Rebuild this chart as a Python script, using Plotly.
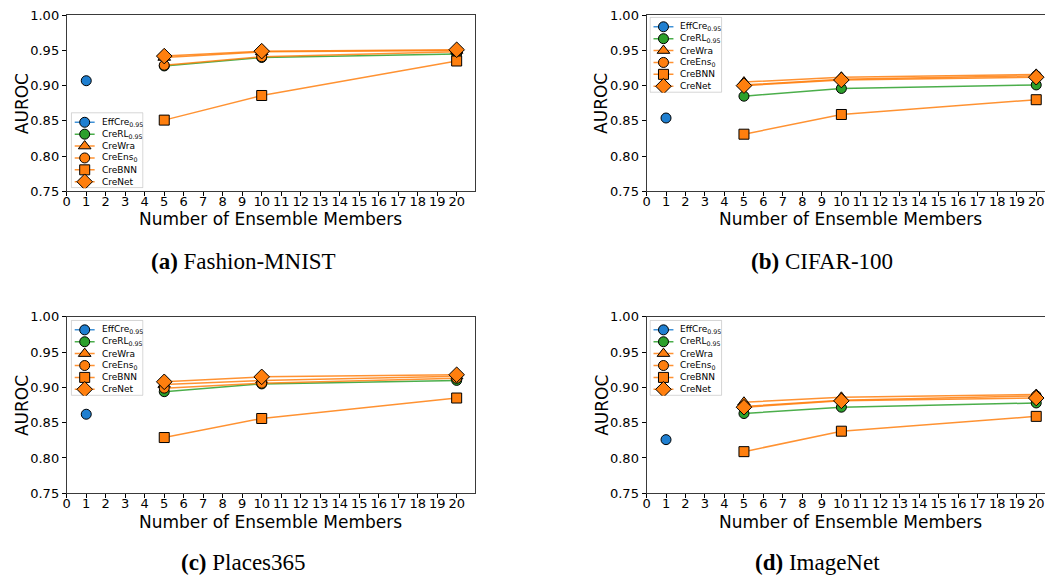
import plotly.graph_objects as go

# ---------------- data ----------------
members = [5, 10, 20]
single = [1]
series_names = ["EffCre<sub>0.95</sub>", "CreRL<sub>0.95</sub>", "CreWra",
                "CreEns<sub>0</sub>", "CreBNN", "CreNet"]
panel_titles = ["<b>(a)</b> Fashion-MNIST", "<b>(b)</b> CIFAR-100",
                "<b>(c)</b> Places365", "<b>(d)</b> ImageNet"]
x_ticks = list(range(0, 21))
y_ticks = [0.75, 0.80, 0.85, 0.90, 0.95, 1.00]

# Fashion-MNIST
fm_effcre = [0.907]
fm_crerl = [0.928, 0.940, 0.945]
fm_crewra = [0.940, 0.948, 0.950]
fm_creens = [0.929, 0.941, 0.948]
fm_crebnn = [0.851, 0.886, 0.935]
fm_crenet = [0.942, 0.949, 0.951]

# CIFAR-100
c100_effcre = [0.854]
c100_crerl = [0.885, 0.896, 0.901]
c100_crewra = [0.905, 0.912, 0.916]
c100_creens = [0.901, 0.909, 0.914]
c100_crebnn = [0.831, 0.859, 0.880]
c100_crenet = [0.900, 0.908, 0.912]

# Places365
pl_effcre = [0.862]
pl_crerl = [0.894, 0.905, 0.910]
pl_crewra = [0.904, 0.910, 0.916]
pl_creens = [0.899, 0.906, 0.913]
pl_crebnn = [0.829, 0.856, 0.885]
pl_crenet = [0.908, 0.915, 0.918]

# ImageNet
in_effcre = [0.826]
in_crerl = [0.863, 0.872, 0.878]
in_crewra = [0.879, 0.886, 0.890]
in_creens = [0.873, 0.882, 0.888]
in_crebnn = [0.809, 0.838, 0.859]
in_crenet = [0.872, 0.881, 0.885]

panels = [
    [fm_effcre, fm_crerl, fm_crewra, fm_creens, fm_crebnn, fm_crenet],
    [c100_effcre, c100_crerl, c100_crewra, c100_creens, c100_crebnn, c100_crenet],
    [pl_effcre, pl_crerl, pl_crewra, pl_creens, pl_crebnn, pl_crenet],
    [in_effcre, in_crerl, in_crewra, in_creens, in_crebnn, in_crenet],
]

# ---------------- styles ----------------
W, H = 1045, 588
BLUE, GREEN, ORANGE = "#1f7fd0", "#2ca02c", "#ff7f0e"
colors = [BLUE, GREEN, ORANGE, ORANGE, ORANGE, ORANGE]
line_colors = ["rgba(31,127,208,0.85)", "rgba(44,160,44,0.85)"] + ["rgba(255,127,14,0.85)"] * 4
symbols = ["circle", "circle", "triangle-up", "circle", "square", "diamond"]
sizes = [10, 10, 11, 10, 10, 12]

# panel boxes in pixels: (left, right, top, bottom, xmax)
boxes = [
    (63, 473, 8.5, 189, 20.95),
    (645, 1045, 8.5, 189, 20.45),
    (63, 473, 318, 499, 20.95),
    (645, 1045, 318, 499, 20.45),
]
# legend boxes: top-left corner in pixels, size
legend_tl = [(67, 108), (648, 10), (67, 321), (648, 321)]
LW, LH = 73, 78
ROW0, ROWSTEP = 10.3, 12.2
caption_pos = [(240, 261), (821, 261), (240, 570), (817, 570)]

fig = go.Figure()
TICKFONT = dict(family="DejaVu Sans", size=13, color="black")
FRAME = "#3a3a3a"

for p, data in enumerate(panels):
    k = "" if p == 0 else str(p + 1)
    for i, vals in enumerate(data):
        xs = single if i == 0 else members
        fig.add_trace(go.Scatter(
            x=xs, y=vals, name=series_names[i], mode="lines+markers",
            xaxis="x" + k, yaxis="y" + k, showlegend=False,
            line=dict(color=line_colors[i], width=1.5),
            marker=dict(symbol=symbols[i], size=sizes[i], color=colors[i],
                        line=dict(color="black", width=1)),
        ))
    l, r, t, b, xmax = boxes[p]
    clipped = p % 2 == 1
    fig.layout["xaxis" + k] = dict(
        domain=[l / W, r / W], range=[0, xmax], anchor="y" + k,
        tickvals=x_ticks, ticks="outside", ticklen=4, tickcolor="black",
        ticklabelstandoff=-6,
        showgrid=False, zeroline=False, showline=True, linecolor=FRAME,
        linewidth=1, mirror=True, tickfont=TICKFONT,
    )
    fig.layout["yaxis" + k] = dict(
        domain=[1 - b / H, 1 - t / H], range=[0.75, 1.0], anchor="x" + k,
        tickvals=y_ticks, tickformat=".2f", ticks="outside", ticklen=4,
        tickcolor="black", showgrid=False, zeroline=False, showline=True,
        linecolor=FRAME, linewidth=1, mirror=(not clipped), tickfont=TICKFONT,
    )
    # axis titles
    xc = (l + (l + 410)) / 2 if clipped else (l + r) / 2
    fig.add_annotation(x=xc / W, y=1 - (b + 29) / H, xref="paper", yref="paper",
                       text="Number of Ensemble Members", showarrow=False,
                       font=dict(family="DejaVu Sans", size=17, color="black"),
                       xanchor="center", yanchor="middle")
    fig.add_annotation(x=(l - 45) / W, y=1 - ((t + b) / 2) / H, xref="paper", yref="paper",
                       text="AUROC", showarrow=False, textangle=-90,
                       font=dict(family="DejaVu Sans", size=17, color="black"),
                       xanchor="center", yanchor="middle")
    cx, cy = caption_pos[p]
    fig.add_annotation(x=cx / W, y=1 - cy / H, xref="paper", yref="paper",
                       text=panel_titles[p], showarrow=False,
                       font=dict(family="Liberation Serif", size=23, color="black"),
                       xanchor="center", yanchor="middle")

# ---------------- legends (one per panel, drawn on small overlay axes) ----------------
for p in range(4):
    n = 5 + p
    bx, by = legend_tl[p]
    fig.layout[f"xaxis{n}"] = dict(domain=[bx / W, (bx + LW) / W], range=[0, LW],
                                   visible=False, anchor=f"y{n}", fixedrange=True)
    fig.layout[f"yaxis{n}"] = dict(domain=[1 - (by + LH) / H, 1 - by / H], range=[LH, 0],
                                   visible=False, anchor=f"x{n}", fixedrange=True)
    fig.add_shape(type="rect", xref=f"x{n}", yref=f"y{n}", x0=0.5, x1=LW - 0.5,
                  y0=0.5, y1=LH - 0.5, line=dict(color="#cccccc", width=1),
                  fillcolor="white", layer="below")
    for i, name in enumerate(series_names):
        yrow = ROW0 + ROWSTEP * i
        fig.add_trace(go.Scatter(
            x=[4, 24], y=[yrow, yrow], mode="lines",
            xaxis=f"x{n}", yaxis=f"y{n}", showlegend=False, hoverinfo="skip",
            line=dict(color=line_colors[i], width=1.5),
        ))
        fig.add_trace(go.Scatter(
            x=[14], y=[yrow], mode="markers",
            xaxis=f"x{n}", yaxis=f"y{n}", showlegend=False, hoverinfo="skip",
            marker=dict(symbol=symbols[i], size=sizes[i], color=colors[i],
                        line=dict(color="black", width=1)),
        ))
        fig.add_annotation(x=(bx + 29) / W, y=1 - (by + yrow) / H,
                           xref="paper", yref="paper", text=name,
                           showarrow=False, xanchor="left", yanchor="middle",
                           font=dict(family="DejaVu Sans", size=9, color="black"))

fig.update_layout(
    width=W, height=H, margin=dict(l=0, r=0, t=0, b=0),
    paper_bgcolor="white", plot_bgcolor="rgba(0,0,0,0)", showlegend=False,
)
fig.write_html("out.html")
